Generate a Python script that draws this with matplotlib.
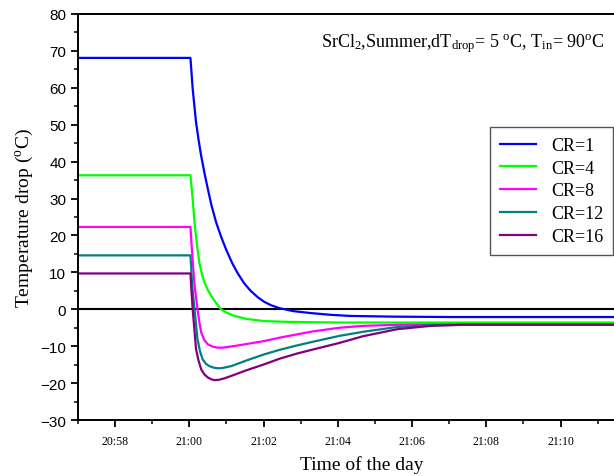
#!/usr/bin/env python3
"""Temperature drop vs time of day for several CR values (SrCl2, summer)."""

import matplotlib
matplotlib.use("Agg")
import matplotlib.pyplot as plt
import matplotlib.ticker as ticker

# time in minutes after 21:00, values in degC
T_CR1 = [-3.5, 0.03, 0.09, 0.18, 0.25, 0.32, 0.41, 0.50, 0.60, 0.72, 0.85,
         0.99, 1.15, 1.30, 1.48, 1.66, 1.85, 2.02, 2.2, 2.43, 2.8, 3.24,
         3.8, 4.32, 5.5, 7.0, 12.5]
V_CR1 = [68.1, 68.1, 59.7, 50.7, 45.8, 41.5, 36.8, 32.5, 28.0, 23.6, 19.8,
         16.2, 12.6, 9.8, 7.0, 4.9, 3.2, 2.0, 1.1, 0.3, -0.5, -1.0,
         -1.5, -1.8, -2.0, -2.1, -2.1]

T_CR4 = [-3.5, 0.03, 0.06, 0.09, 0.14, 0.18, 0.22, 0.27, 0.34, 0.41, 0.5,
         0.59, 0.72, 0.85, 1.0, 1.21, 1.53, 2.02, 2.6, 3.3, 4.05, 12.5]
V_CR4 = [36.3, 36.3, 33.0, 29.8, 23.5, 19.8, 16.3, 12.6, 9.5, 7.2, 5.2,
         3.6, 1.7, 0.0, -0.9, -1.8, -2.6, -3.2, -3.4, -3.5, -3.6, -3.6]

T_CR8 = [-3.5, 0.03, 0.08, 0.14, 0.22, 0.27, 0.32, 0.4, 0.5, 0.62, 0.77,
         0.9, 1.04, 1.25, 1.49, 2.02, 2.43, 2.9, 3.33, 4.05, 4.68, 5.6, 6.5,
         7.5, 12.5]
V_CR8 = [22.3, 22.3, 14.5, 6.5, 0.0, -3.5, -6.3, -8.3, -9.5, -10.1, -10.4,
         -10.4, -10.2, -9.9, -9.5, -8.6, -7.7, -6.8, -6.0, -5.0, -4.5, -4.2,
         -4.1, -4.1, -4.1]

T_CR12 = [-3.5, 0.03, 0.08, 0.14, 0.22, 0.29, 0.36, 0.45, 0.54, 0.65, 0.77,
          0.9, 1.13, 1.53, 2.02, 2.43, 2.9, 3.33, 4.05, 4.68, 5.6, 6.5, 7.5,
          12.5]
V_CR12 = [14.6, 14.6, 6.0, 0.0, -8.1, -11.5, -13.6, -14.8, -15.4, -15.8, -16.0,
          -15.9, -15.4, -13.9, -12.2, -11.0, -9.8, -8.8, -7.2, -6.1, -4.8,
          -4.3, -4.2, -4.2]

T_CR16 = [-3.5, 0.03, 0.06, 0.09, 0.18, 0.25, 0.32, 0.41, 0.5, 0.6, 0.68,
          0.8, 0.95, 1.2, 1.49, 2.02, 2.43, 2.9, 3.33, 4.05, 4.68, 5.6, 6.5,
          7.4, 12.5]
V_CR16 = [9.7, 9.7, 4.5, 0.0, -10.8, -14.0, -16.3, -17.7, -18.5, -19.0, -19.2,
          -19.1, -18.7, -17.8, -16.7, -14.9, -13.4, -12.0, -10.9, -9.1, -7.3,
          -5.4, -4.5, -4.2, -4.2]

XTICKS = [-2, 0, 2, 4, 6, 8, 10]
XTICK_LABELS = ["20:58", "21:00", "21:02", "21:04", "21:06", "21:08", "21:10"]

plt.rcParams.update({
    "font.family": "Liberation Serif",
    "mathtext.fontset": "custom",
    "mathtext.rm": "Liberation Serif",
    "mathtext.it": "Liberation Serif:italic",
    "mathtext.bf": "Liberation Serif:bold",
    "axes.linewidth": 1.4,
    "xtick.major.width": 1.3,
    "ytick.major.width": 1.3,
    "xtick.minor.width": 1.1,
    "ytick.minor.width": 1.1,
    "xtick.major.size": 5,
    "ytick.major.size": 5,
    "xtick.minor.size": 3,
    "ytick.minor.size": 3,
})

fig = plt.figure(figsize=(6.14, 4.77), dpi=100)
ax = fig.add_axes([0.127, 0.1174, 0.925, 0.8512])

series = [
    (T_CR1, V_CR1, "CR=1", "#0000ff"),
    (T_CR4, V_CR4, "CR=4", "#00ff00"),
    (T_CR8, V_CR8, "CR=8", "#ff00ff"),
    (T_CR12, V_CR12, "CR=12", "#008080"),
    (T_CR16, V_CR16, "CR=16", "#800080"),
]
for t, v, label, color in series:
    ax.plot(t, v, color=color, lw=1.6, label=label, solid_joinstyle="round")

ax.axhline(0, color="black", lw=1.5, zorder=1)

ax.set_xlim(-3, 12.3)
ax.set_ylim(-30, 80)
ax.set_xticks(XTICKS)
ax.set_xticklabels(XTICK_LABELS, fontsize=8.5)
ax.xaxis.set_minor_locator(ticker.MultipleLocator(1))
ax.yaxis.set_major_locator(ticker.MultipleLocator(10))
ax.yaxis.set_minor_locator(ticker.MultipleLocator(5))
for lab in ax.get_yticklabels():
    lab.set_family("Liberation Sans")
    lab.set_fontsize(11)
ax.tick_params(axis="x", pad=6)
ax.spines["right"].set_visible(False)

ax.set_xlabel("Time of the day", fontsize=14, labelpad=6)
ax.set_ylabel(r"Temperature drop ($^{\mathrm{o}}$C)", fontsize=14, labelpad=4)

fig.text(605 / 614, 1 - 47 / 477,
         r"SrCl$_{2}$,Summer,dT$_{\mathrm{drop}}$= 5 $^{\mathrm{o}}$C, "
         r"T$_{\mathrm{in}}$= 90$^{\mathrm{o}}$C",
         ha="right", va="baseline", fontsize=13)

leg = ax.legend(loc="upper right", bbox_to_anchor=(613 / 614, 1 - 128 / 477),
                bbox_transform=fig.transFigure, fontsize=13, fancybox=False,
                edgecolor="#555555", framealpha=1, borderaxespad=0,
                handlelength=2.0, labelspacing=0.32, borderpad=0.55)
leg.get_frame().set_linewidth(1.0)

fig.savefig("out.png", dpi=100)
